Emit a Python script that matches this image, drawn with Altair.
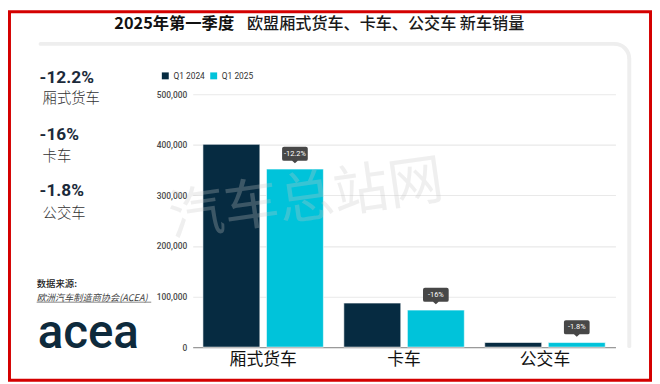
import math
import altair as alt
import pandas as pd

# ---------------- data ----------------
title_main = "2025年第一季度"
title_rest = "欧盟厢式货车、卡车、公交车 新车销量"
categories = ["厢式货车", "卡车", "公交车"]
series_names = ["Q1 2024", "Q1 2025"]
q1_2024 = [401000, 87100, 9200]
q1_2025 = [352100, 73200, 9030]
changes = ["-12.2%", "-16%", "-1.8%"]
y_ticks = [0, 100000, 200000, 300000, 400000, 500000]
source_label = "数据来源:"
source_name = "欧洲汽车制造商协会(ACEA)"
logo_text = "acea"
watermark_text = "汽车总站网"
colors = ["#062b41", "#00c3da"]

rows = []
for c, a, b in zip(categories, q1_2024, q1_2025):
    rows.append({"category": c, "series": series_names[0], "value": a})
    rows.append({"category": c, "series": series_names[1], "value": b})
df = pd.DataFrame(rows)
pill_df = pd.DataFrame({"category": categories, "series": series_names[1],
                        "value": q1_2025, "label": changes})
panel_df = pd.DataFrame({"category": categories, "change": changes, "idx": [0, 1, 2]})

CJK = "Noto Sans CJK SC"

x_enc = alt.X("category:N", sort=categories,
              scale=alt.Scale(domain=categories, paddingInner=0.145, paddingOuter=0.0725),
              axis=alt.Axis(title=None, labelAngle=0, labelFont=CJK, labelFontSize=17,
                            labelColor="#111111", labelPadding=5, ticks=False,
                            domainColor="#9a9a9a", domainWidth=1.5, grid=False))
xoff_enc = alt.XOffset("series:N",
                       scale=alt.Scale(domain=series_names, paddingInner=0.104, paddingOuter=0))
y_enc = alt.Y("value:Q", scale=alt.Scale(domain=[0, 500000]),
              axis=alt.Axis(title=None, values=y_ticks, format=",d", labelFont="Roboto",
                            labelFontSize=8.5, labelFontWeight=500, labelColor="#4a4a4a",
                            labelPadding=6, ticks=False, domain=False,
                            gridColor="#e9e9e9", gridWidth=1.2))

bars = alt.Chart(df).mark_bar(stroke="#ffffff", strokeWidth=0.6).encode(
    x=x_enc, xOffset=xoff_enc, y=y_enc,
    color=alt.Color("series:N", scale=alt.Scale(domain=series_names, range=colors),
                    legend=alt.Legend(orient="none", legendX=-32, legendY=-23,
                                      direction="horizontal", title=None,
                                      symbolType="square", symbolSize=49,
                                      symbolStrokeWidth=0, symbolOpacity=1,
                                      labelFont="Roboto", labelFontSize=8.5,
                                      labelColor="#333333", labelOffset=4,
                                      columnPadding=4, padding=0)),
)

pill_path = ("M-0.85,-0.55 H0.85 Q1,-0.55 1,-0.4 V0.4 Q1,0.55 0.85,0.55 H0.22 "
             "L0,0.74 L-0.22,0.55 H-0.85 Q-1,0.55 -1,0.4 V-0.4 Q-1,-0.55 -0.85,-0.55 Z")
pills = alt.Chart(pill_df).mark_point(shape=pill_path, filled=True, size=676,
                                      color="#474747", opacity=1, strokeWidth=0,
                                      yOffset=-15.5).encode(
    x=x_enc, xOffset=xoff_enc, y=y_enc)
pill_text = alt.Chart(pill_df).mark_text(color="#ffffff", fontSize=7.5, font="Roboto",
                                         baseline="middle", yOffset=-15.5).encode(
    x=x_enc, xOffset=xoff_enc, y=y_enc, text="label:N")

# ---------------- title ----------------
title1 = alt.Chart(pd.DataFrame({"t": [title_main]})).mark_text(
    align="right", baseline="middle", font=CJK, fontSize=16.5, fontWeight="bold",
    color="#111111").encode(x=alt.value(42), y=alt.value(-71), text="t:N")
title2 = alt.Chart(pd.DataFrame({"t": [title_rest]})).mark_text(
    align="left", baseline="middle", font=CJK, fontSize=16.3, fontWeight=500,
    color="#1a1a1a").encode(x=alt.value(55), y=alt.value(-71), text="t:N")

# ---------------- left panel ----------------
panel_layers = []
for i in range(len(categories)):
    panel_layers.append(
        alt.Chart(panel_df).transform_filter(alt.datum.idx == i).mark_text(
            align="left", baseline="middle", font="Roboto", fontSize=17.5,
            fontWeight="bold", color="#1b2a3a").encode(
            x=alt.value(-155), y=alt.value(-16 + 57 * i), text="change:N"))
    panel_layers.append(
        alt.Chart(panel_df).transform_filter(alt.datum.idx == i).mark_text(
            align="left", baseline="middle", font=CJK, fontSize=14.5, fontWeight=300,
            color="#333333").encode(
            x=alt.value(-152), y=alt.value(4.5 + 58.6 * i), text="category:N"))

src1 = alt.Chart(pd.DataFrame({"t": [source_label]})).mark_text(
    align="left", baseline="middle", font=CJK, fontSize=9.5, fontWeight=500,
    color="#222222").encode(x=alt.value(-158), y=alt.value(192), text="t:N")
src2 = alt.Chart(pd.DataFrame({"t": [source_name]})).mark_text(
    align="left", baseline="middle", font=CJK, fontSize=9.3, fontStyle="italic",
    color="#444444").encode(x=alt.value(-158), y=alt.value(206), text="t:N")
src_line = alt.Chart(pd.DataFrame({"t": [source_name]})).mark_rule(
    color="#666666", strokeWidth=0.8).encode(
    x=alt.value(-158), x2=alt.value(-42), y=alt.value(210.5))
logo = alt.Chart(pd.DataFrame({"t": [logo_text]})).mark_text(
    align="left", baseline="alphabetic", font="Roboto", fontSize=48, fontWeight=500,
    color="#0e2a3c").encode(x=alt.value(-157), y=alt.value(257), text="t:N")

# ---------------- decorations ----------------
frame_col = "#eeeeee"
frame_top = alt.Chart(pd.DataFrame({"a": [0]})).mark_rule(
    color=frame_col, strokeWidth=4, strokeCap="round").encode(
    x=alt.value(-154), x2=alt.value(427), y=alt.value(-51))
frame_right = alt.Chart(pd.DataFrame({"a": [0]})).mark_rule(
    color=frame_col, strokeWidth=4, strokeCap="round").encode(
    x=alt.value(442), y=alt.value(-36), y2=alt.value(255))
frame_arc = alt.Chart(pd.DataFrame({"a": [0]})).mark_arc(
    radius=17, radius2=13, theta=0, theta2=math.pi / 2, color=frame_col).encode(
    x=alt.value(427), y=alt.value(-36))
red_border = alt.Chart(pd.DataFrame({"a": [0]})).mark_rect(
    filled=False, color="#d40000", strokeWidth=3).encode(
    x=alt.value(-185.5), x2=alt.value(463.5), y=alt.value(-83.5), y2=alt.value(289.5))

wm = alt.Chart(pd.DataFrame({"t": [watermark_text]})).mark_text(
    align="center", baseline="middle", font=CJK, fontSize=56, angle=352,
    color="#c8c8c8", opacity=0.28).encode(x=alt.value(115), y=alt.value(107), text="t:N")

chart = alt.layer(
    frame_top, frame_right, frame_arc, red_border,
    bars, pills, pill_text,
    title1, title2, *panel_layers, src1, src2, src_line, logo, wm,
).properties(
    width=428, height=256,
    padding={"left": 187, "top": 85, "right": 37, "bottom": 35},
    autosize=alt.AutoSizeParams(type="none"),
    background="#ffffff",
).configure_view(stroke=None)

chart.save("out.html", embed_options={"renderer": "svg", "actions": False})
